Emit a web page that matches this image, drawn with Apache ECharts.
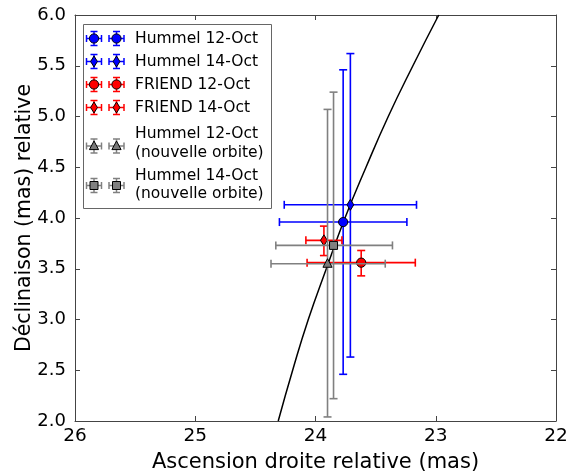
<!DOCTYPE html>
<html><head><meta charset="utf-8">
<script src="https://cdn.jsdelivr.net/npm/echarts@6/dist/echarts.min.js"></script>
<style>html,body{margin:0;padding:0;background:#fff}#c{width:568px;height:472px}</style>
</head><body><div id="c"></div><script>
// ---- data ----
const names = ['Hummel 12-Oct','Hummel 14-Oct','FRIEND 12-Oct','FRIEND 14-Oct','Hummel 12-Oct\n(nouvelle orbite)','Hummel 14-Oct\n(nouvelle orbite)'];
const ra     = [23.77, 23.71, 23.62, 23.93, 23.90, 23.85];
const dec    = [3.96, 4.13, 3.56, 3.78, 3.55, 3.73];
const raLo   = [23.24, 23.16, 23.17, 23.78, 23.42, 23.36];
const raHi   = [24.30, 24.26, 24.07, 24.08, 24.37, 24.33];
const decLo  = [2.46, 2.63, 3.43, 3.63, 2.04, 2.22];
const decHi  = [5.46, 5.62, 3.68, 3.92, 5.07, 5.24];
const symbols = ['circle','diamond','circle','diamond','triangle','square'];
const colors  = ['#0000ff','#0000ff','#ff0000','#ff0000','#808080','#808080'];
const fills   = ['#0000ff','#0000ff','#ff0000','#ff0000','#7a7a7a','#808080'];
const curveRA  = [24.31, 24.19, 24.06, 23.91, 23.755, 23.58, 23.395, 23.19, 22.975];
const curveDec = [2.0, 2.5, 3.0, 3.5, 4.0, 4.5, 5.0, 5.5, 6.0];
const xTicks = [22, 23, 24, 25, 26];
const yTicks = [2.0, 2.5, 3.0, 3.5, 4.0, 4.5, 5.0, 5.5, 6.0];

const FONT = '"DejaVu Sans", "Liberation Sans", sans-serif';

function marker(shape, cx, cy, fill) {
  const st = {fill: fill, stroke: '#000', lineWidth: 1};
  if (shape === 'circle') return {type: 'circle', shape: {cx: cx, cy: cy, r: 4.6}, style: st};
  if (shape === 'diamond') return {type: 'polygon', shape: {points: [[cx, cy - 5.5], [cx + 3.4, cy], [cx, cy + 5.5], [cx - 3.4, cy]]}, style: st};
  if (shape === 'triangle') return {type: 'polygon', shape: {points: [[cx, cy - 5], [cx + 4.6, cy + 3.6], [cx - 4.6, cy + 3.6]]}, style: st};
  return {type: 'rect', shape: {x: cx - 4, y: cy - 4, width: 8, height: 8}, style: st};
}
function errBars(p0, p1, q0, q1, color, cap, lw) {
  const s = {stroke: color, lineWidth: lw};
  return [
    {type: 'line', shape: {x1: p0[0], y1: p0[1], x2: p1[0], y2: p1[1]}, style: s},
    {type: 'line', shape: {x1: p0[0], y1: p0[1] - cap, x2: p0[0], y2: p0[1] + cap}, style: s},
    {type: 'line', shape: {x1: p1[0], y1: p1[1] - cap, x2: p1[0], y2: p1[1] + cap}, style: s},
    {type: 'line', shape: {x1: q0[0], y1: q0[1], x2: q1[0], y2: q1[1]}, style: s},
    {type: 'line', shape: {x1: q0[0] - cap, y1: q0[1], x2: q0[0] + cap, y2: q0[1]}, style: s},
    {type: 'line', shape: {x1: q1[0] - cap, y1: q1[1], x2: q1[0] + cap, y2: q1[1]}, style: s}
  ];
}

const series = [{
  type: 'line', name: 'orbit', xAxisIndex: 0, yAxisIndex: 0,
  data: curveRA.map((v, i) => [v, curveDec[i]]),
  showSymbol: false, smooth: true, lineStyle: {color: '#000', width: 1.5}, z: 1, silent: true
}];
names.forEach((n, k) => {
  series.push({
    type: 'custom', name: n, xAxisIndex: 0, yAxisIndex: 0, z: 2 + k,
    data: [[ra[k], dec[k], raLo[k], raHi[k], decLo[k], decHi[k]]],
    renderItem: function (params, api) {
      const c = api.coord([api.value(0), api.value(1)]);
      const l = api.coord([api.value(2), api.value(1)]);
      const r = api.coord([api.value(3), api.value(1)]);
      const b = api.coord([api.value(0), api.value(4)]);
      const t = api.coord([api.value(0), api.value(5)]);
      const children = errBars(l, r, b, t, colors[k], 4, 1.6);
      children.push(marker(symbols[k], c[0], c[1], fills[k]));
      return {type: 'group', children: children};
    }
  });
});

// legend built from series arrays
const legendRowsY = [38.5, 61.5, 84.5, 107.5, 146, 185.5];
const legendTextY = [38.5, 61.5, 84.5, 107.5, 143.5, 185];
const legendChildren = [{type: 'rect', shape: {x: 83.5, y: 24.5, width: 188, height: 184}, style: {fill: '#fff', stroke: '#666', lineWidth: 1}}];
names.forEach((n, k) => {
  const cy = legendRowsY[k];
  [94, 116.5].forEach(cx => {
    legendChildren.push(...errBars([cx - 7.5, cy], [cx + 7.5, cy], [cx, cy + 7], [cx, cy - 7], colors[k], 3.5, 1.5));
    legendChildren.push(marker(symbols[k], cx, cy, fills[k]));
  });
  legendChildren.push({type: 'text', style: {text: n, x: 135, y: legendTextY[k], fill: '#000', font: '15.5px ' + FONT, verticalAlign: 'middle', lineHeight: 18.5}});
});

const axisLineStyle = {color: '#444', width: 1};
const chart = echarts.init(document.getElementById('c'), null, {renderer: 'canvas'});
chart.setOption({
  animation: false,
  backgroundColor: '#fff',
  grid: {left: 75, top: 15, width: 481, height: 406, containLabel: false, outerBoundsMode: 'none'},
  xAxis: [{
    type: 'value', min: 22, max: 26, interval: 1, inverse: true, position: 'bottom',
    name: 'Ascension droite relative (mas)', nameLocation: 'middle', nameGap: 31, nameMoveOverlap: false,
    nameTextStyle: {fontSize: 21, fontFamily: FONT, color: '#000'},
    axisLine: {show: true, lineStyle: axisLineStyle},
    axisTick: {show: true, inside: true, length: 5, lineStyle: axisLineStyle},
    axisLabel: {fontSize: 18.5, fontFamily: FONT, color: '#000', margin: 6, formatter: v => xTicks.includes(v) ? String(v) : ''},
    splitLine: {show: false}
  }, {
    type: 'value', min: 22, max: 26, interval: 1, inverse: true, position: 'top',
    axisLine: {show: true, lineStyle: axisLineStyle},
    axisTick: {show: true, inside: true, length: 5, lineStyle: axisLineStyle},
    axisLabel: {show: false}, splitLine: {show: false}
  }],
  yAxis: [{
    type: 'value', min: 2, max: 6, interval: 0.5, position: 'left',
    name: 'Déclinaison (mas) relative', nameLocation: 'middle', nameGap: 40, nameMoveOverlap: false,
    nameTextStyle: {fontSize: 20.5, fontFamily: FONT, color: '#000'},
    axisLine: {show: true, lineStyle: axisLineStyle},
    axisTick: {show: true, inside: true, length: 5, lineStyle: axisLineStyle},
    axisLabel: {fontSize: 18, fontFamily: FONT, color: '#000', margin: 9, formatter: v => yTicks.includes(v) ? v.toFixed(1) : ''},
    splitLine: {show: false}
  }, {
    type: 'value', min: 2, max: 6, interval: 0.5, position: 'right',
    axisLine: {show: true, lineStyle: axisLineStyle},
    axisTick: {show: true, inside: true, length: 5, lineStyle: axisLineStyle},
    axisLabel: {show: false}, splitLine: {show: false}
  }],
  series: series,
  graphic: [{type: 'group', x: 0, y: 0, z: 100, children: legendChildren}]
});
</script></body></html>
